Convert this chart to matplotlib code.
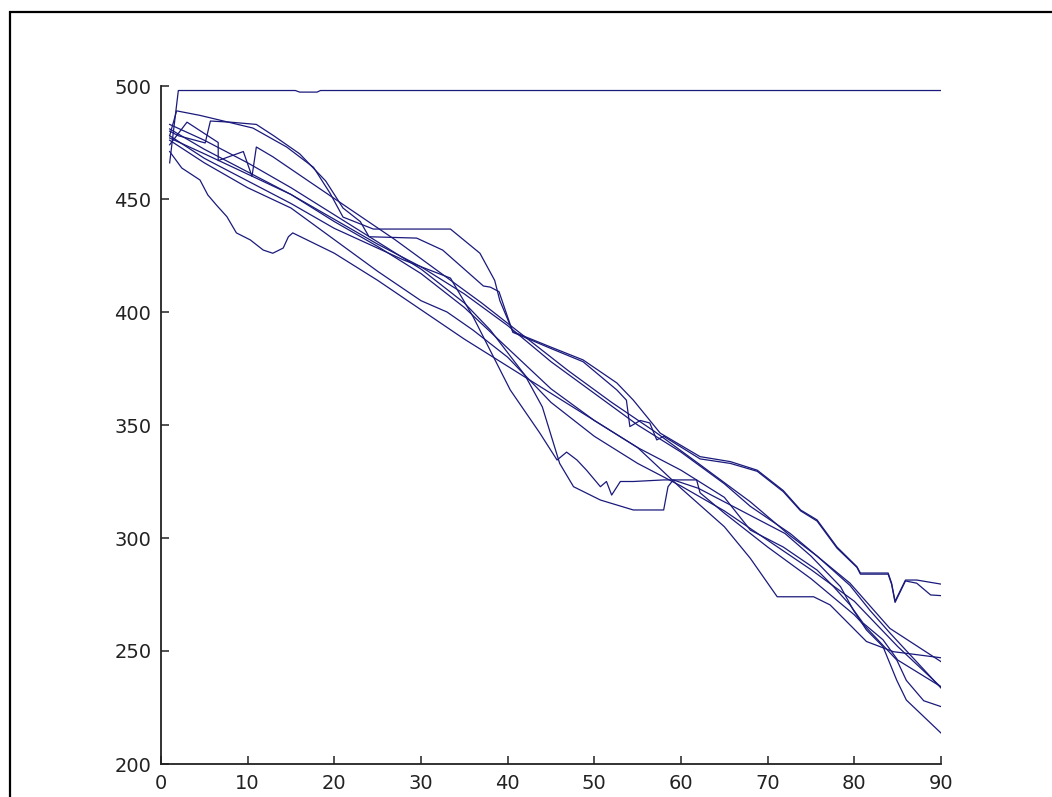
import matplotlib
matplotlib.use('Agg')
import matplotlib.pyplot as plt
from matplotlib.patches import Rectangle

# traced series (x, y)
line1_x = [1, 2, 15.5, 16, 18, 18.4, 90]
line1_y = [466, 498, 498, 497.3, 497.3, 498, 498]

line2_x = [1, 1.8, 4.5, 10.6, 14.5, 17.6, 19.5, 21, 24.5, 33.4, 36.8, 38.5, 39.1, 40.6,
           44.9, 48.7, 52.6, 54.5, 57.6, 62.2, 65.7, 68.8, 71.8, 73.8, 75.7, 78, 80.3,
           80.7, 83.9, 84.3, 84.7, 85.9, 87.2, 90]
line2_y = [478, 489, 487, 481.4, 473, 464, 452.6, 442, 436.7, 436.7, 426, 414, 405, 391.3,
           384.6, 378.8, 368.6, 361, 346.4, 336, 333.8, 330, 321, 312.4, 308, 296, 287.3,
           284.5, 284.5, 280, 272, 281.4, 281.4, 279.6]

line3_x = [1, 2, 5.1, 5.7, 8, 11, 13, 16, 19, 21, 23, 24, 29.5, 32.5, 37.2, 38, 39, 40.6,
           44.9, 48.7, 52.6, 53.7, 54.1, 55.3, 56.4, 57.2, 58, 62.2, 65.7, 68.8, 71.8,
           73.8, 75.7, 78, 80.3, 80.7, 83.9, 84.3, 84.7, 85.9, 87.2, 88.8, 90]
line3_y = [480, 478, 474.8, 484.5, 484, 483, 478, 470, 458, 446, 440, 433.3, 432.7, 427.4,
           411.5, 411, 409, 391, 384, 378, 365.5, 361, 349.3, 352, 350.9, 343.4, 345, 335,
           333, 329.5, 320.5, 312, 307.5, 295.5, 287, 284, 284, 279.5, 271.5, 281, 280,
           274.8, 274.5]

line4_x = [1, 2.4, 4.5, 5.4, 6.4, 7.6, 8.7, 10.3, 11.8, 12.9, 14.1, 14.7, 15.2, 20, 25, 30,
           35, 40, 45, 50, 55, 60, 65, 68, 71.1, 75.3, 77.2, 81.4, 84.5, 90]
line4_y = [471, 463.7, 458.4, 451.8, 447.3, 442.2, 435, 431.9, 427.4, 426, 428.3, 433.3,
           435, 426, 414, 401, 388, 376, 364, 352, 340, 322, 305, 291, 274, 274, 270.4,
           254.2, 249.7, 247]

line5_x = [1, 3, 6.6, 6.6, 9.5, 10.5, 11, 12.9, 17, 22, 27, 32, 37, 42, 47, 52, 57, 62,
           68, 72.6, 75.7, 79.5, 81.8, 84.1, 90]
line5_y = [474, 484, 475, 467, 471, 460, 473, 468.7, 458, 445, 432, 418, 404, 389, 374,
           360, 347, 333, 316, 301, 292, 280, 270, 260, 245.3]

line6_x = [1, 5, 10, 15, 20, 24, 28, 33.4, 36, 40.3, 43.7, 45.7, 46.8, 48, 49.1, 50.7,
           51.4, 52, 53, 54.5, 58, 59.1, 62, 65, 68, 72, 75, 78.4, 79.9, 81.4, 83.3, 84.9,
           86, 88, 90]
line6_y = [478, 468, 458, 448, 437, 430, 423, 415, 398, 365.5, 346.5, 334.5, 338, 334.5,
           330, 322.7, 325, 319, 325, 325, 325.7, 325.7, 322, 316, 310, 302, 292, 278.5,
           268, 259.3, 252, 237, 228.3, 221, 213.7]

line7_x = [1, 5, 10, 15, 20, 25, 30, 33, 36, 40, 42, 44, 46, 47.6, 50.7, 54.5, 58, 58.5,
           59.1, 61.8, 62.2, 65, 70, 75, 80, 84.9, 86, 88, 90]
line7_y = [476, 466, 455, 446, 432, 418, 405, 400, 392, 380, 372, 358, 333, 322.7, 316.8,
           312.4, 312.4, 322.7, 325.7, 325.7, 320, 311, 296, 282, 266, 246, 237, 228,
           225.4]

line8_x = [1, 5, 10, 15, 20, 25, 30, 35, 40, 45, 50, 55, 60, 65, 68, 71.8, 75.7, 77.6,
           79.5, 81, 83.3, 85, 90]
line8_y = [481, 472, 462, 452, 440, 429, 417, 402, 384, 366, 352, 340, 330, 318, 303.5,
           296, 285.8, 278.5, 270.4, 262.4, 255, 246, 234.2]

line9_x = [1, 5, 10, 15, 20, 25, 30, 35, 38, 42, 45, 50, 55, 60, 65, 70, 75, 80, 85, 90]
line9_y = [483, 476, 466, 455, 443, 431, 419, 404, 392, 372, 360, 345, 333, 323, 312,
           299, 286, 272, 252, 234]

line10_x = [1, 5, 10, 15, 20, 25, 30, 35, 40, 45, 50, 55, 60, 65, 68, 72.6, 75.7, 79.5,
            81.8, 84.1, 90]
line10_y = [477, 470, 461, 452, 441, 430, 420, 408, 394, 378, 364, 350, 338, 324, 314,
            302, 292, 279, 268, 258, 233.6]

LINE_COLOR = '#1a1a7c'
INK = '#222222'


def main():
    fig = plt.figure(figsize=(10.52, 7.97), dpi=100)
    ax = fig.add_axes([161 / 1052, 33 / 797, 780 / 1052, 678 / 797])

    series = [
        (line1_x, line1_y), (line2_x, line2_y), (line3_x, line3_y),
        (line4_x, line4_y), (line5_x, line5_y), (line6_x, line6_y),
        (line7_x, line7_y), (line8_x, line8_y), (line9_x, line9_y),
        (line10_x, line10_y),
    ]
    for xs, ys in series:
        ax.plot(xs, ys, color=LINE_COLOR, lw=0.9)

    ax.set_xlim(0, 90)
    ax.set_ylim(200, 500)
    ax.set_xticks(range(0, 91, 10))
    ax.set_yticks(range(200, 501, 50))
    ax.spines['top'].set_visible(False)
    ax.spines['right'].set_visible(False)
    for s in ('left', 'bottom'):
        ax.spines[s].set_linewidth(1.3)
        ax.spines[s].set_color(INK)
    ax.tick_params(direction='in', length=6, width=1.1, color=INK,
                   labelsize=14, labelcolor=INK)
    ax.tick_params(axis='x', pad=7.5)
    ax.tick_params(axis='y', pad=7)

    # outer figure frame (right/bottom sides lie outside the image)
    fig.patches.append(Rectangle((10 / 1052, -0.1), 1.2, (797 - 12) / 797 + 0.1,
                                 transform=fig.transFigure, fill=False,
                                 edgecolor='black', lw=1.6))

    fig.savefig('out.png', dpi=100)
    plt.close(fig)


if __name__ == '__main__':
    main()
